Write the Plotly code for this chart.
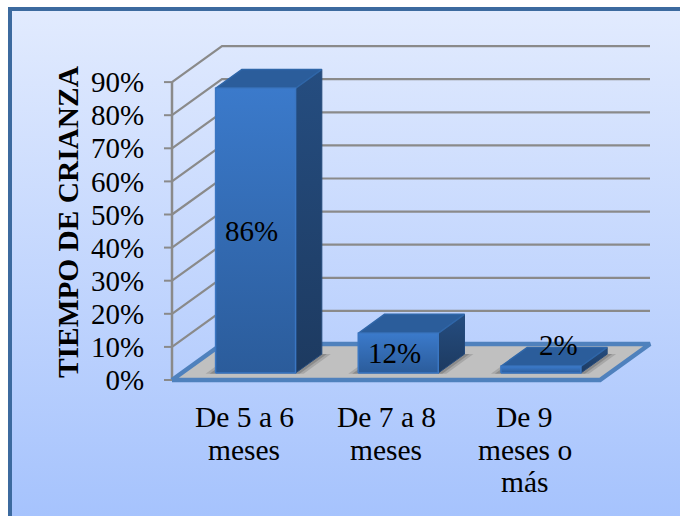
import plotly.graph_objects as go

# ---- data ----
categories = ["De 5 a 6<br>meses", "De 7 a 8<br>meses", "De 9<br>meses o<br>más"]
values = [86, 12, 2]
value_labels = ["86%", "12%", "2%"]
tick_values = [0, 10, 20, 30, 40, 50, 60, 70, 80, 90]
tick_labels = ["0%", "10%", "20%", "30%", "40%", "50%", "60%", "70%", "80%", "90%"]
axis_title = "TIEMPO DE CRIANZA"

# ---- page geometry (pixels) ----
W, H = 680, 516
LAYOUT_H = 522
X0_PX, Y0_PX = 172, 380          # front-left corner of floor
CAT_PX = 428 / 3                 # width of a category slot
PCT_PX = 3.31                    # pixels per percent
BACK_DX, BACK_DY = 50, 36        # oblique depth of the box
PLOT_L, PLOT_R, PLOT_T, PLOT_B = 164, 660, 35, 390
SERIF = "Times New Roman, Liberation Serif, serif"

x_range = [(PLOT_L - X0_PX) / CAT_PX - 0.5, (PLOT_R - X0_PX) / CAT_PX - 0.5]
y_range = [(Y0_PX - PLOT_B) / PCT_PX, (Y0_PX - PLOT_T) / PCT_PX]
X_END = 2.5
DX = BACK_DX / CAT_PX
DY = BACK_DY / PCT_PX

BAR_HALF = 40 / CAT_PX
BAR_SHIFT = 2.5 / CAT_PX
D_FRONT = 0.195
D_BACK = 0.72


def proj(x, v, d):
    return x + d * DX, v + d * DY


def poly(points):
    xs, ys = zip(*[proj(*p) for p in points])
    return list(xs) + [xs[0]], list(ys) + [ys[0]]


GRID = "#8a8a8a"
traces = []

# page background and frame (full-page subplot)
traces.append(go.Scatter(
    x=[8, W, W, 8, 8], y=[7, 7, H, H, 7], mode="lines", fill="toself",
    line=dict(width=0), xaxis="x", yaxis="y", hoverinfo="skip", showlegend=False,
    fillgradient=dict(type="vertical",
                      colorscale=[[0, "#a6c3fd"], [1, "#e2ebfe"]])))
traces.append(go.Scatter(
    x=[10, 10, W + 10], y=[H + 10, 9, 9], mode="lines",
    line=dict(color="#3c6a9f", width=4), xaxis="x", yaxis="y",
    hoverinfo="skip", showlegend=False))


def add(xs, ys, **kw):
    traces.append(go.Scatter(x=xs, y=ys, xaxis="x2", yaxis="y2", showlegend=False,
                             hoverinfo="skip", **kw))


# gridlines: front-left -> back wall -> right end
for t in tick_values[1:]:
    a = proj(-0.5, t, 0)
    b = proj(-0.5, t, 1)
    c = proj(X_END, t, 1)
    add([a[0], b[0], c[0]], [a[1], b[1], c[1]], mode="lines",
        line=dict(color=GRID, width=2.2))

for t in tick_values:
    add([x_range[0], -0.5], [t, t], mode="lines", line=dict(color=GRID, width=2))
add([-0.5, -0.5], [0, tick_values[-1]], mode="lines", line=dict(color=GRID, width=2.5))

# floor
fx, fy = poly([(-0.5, 0, 0), (-0.5, 0, 1), (X_END, 0, 1), (X_END, 0, 0)])
add(fx, fy, mode="lines", fill="toself", fillcolor="#c0c0c0",
    line=dict(color="#4f81bd", width=4.5))

# bars
for i, v in enumerate(values):
    c = i + BAR_SHIFT
    L, R = c - BAR_HALF, c + BAR_HALF
    for grow, alpha in [(9 / CAT_PX, 0.16), (5 / CAT_PX, 0.22)]:
        sx, sy = poly([(L - grow, 0, D_FRONT - 0.02), (R + grow, 0, D_FRONT - 0.02),
                       (R + grow, 0, D_BACK), (L - grow, 0, D_BACK)])
        add(sx, sy, mode="lines", fill="toself", fillcolor=f"rgba(40,40,40,{alpha})",
            line=dict(width=0))
    sx, sy = poly([(R, 0, D_FRONT), (R, 0, D_BACK), (R, v, D_BACK), (R, v, D_FRONT)])
    add(sx, sy, mode="lines", fill="toself", line=dict(color="#24497a", width=1),
        fillgradient=dict(type="vertical", colorscale=[[0, "#1d3a60"], [1, "#254d80"]]))
    sx, sy = poly([(L, v, D_FRONT), (R, v, D_FRONT), (R, v, D_BACK), (L, v, D_BACK)])
    add(sx, sy, mode="lines", fill="toself", fillcolor="#2b5d9b",
        line=dict(color="#2f66a8", width=1.5))
    sx, sy = poly([(L, 0, D_FRONT), (R, 0, D_FRONT), (R, v, D_FRONT), (L, v, D_FRONT)])
    add(sx, sy, mode="lines", fill="toself", line=dict(color="#3a76c2", width=1.5),
        fillgradient=dict(type="vertical", colorscale=[[0, "#2b5c9b"], [1, "#3b7acb"]]))

annotations = []
label_shift = [(-4, 0), (-4, 0), (18, -25)]
for i, (v, txt) in enumerate(zip(values, value_labels)):
    px, py = proj(i + BAR_SHIFT, v / 2, D_FRONT)
    annotations.append(dict(x=px, y=py, xref="x2", yref="y2", text=txt, showarrow=False,
                            xshift=label_shift[i][0], yshift=-label_shift[i][1],
                            font=dict(family=SERIF, size=29, color="black")))

LINE_PX = 32.5
FIRST_LINE_PX = 417
cat_shift = [1, 0, -4]
for i, cat in enumerate(categories):
    for j, line in enumerate(cat.split("<br>")):
        annotations.append(dict(x=i, xref="x2", y=1 - (FIRST_LINE_PX + j * LINE_PX) / H,
                                yref="paper", text=line, showarrow=False, yanchor="middle",
                                xanchor="center", xshift=cat_shift[i],
                                font=dict(family=SERIF, size=29.5, color="black")))

annotations.append(dict(x=68 / W, y=1 - 222 / H, xref="paper", yref="paper",
                        text=f"<b>{axis_title}</b>", xanchor="center", yanchor="middle",
                        showarrow=False, textangle=-90,
                        font=dict(family=SERIF, size=29.4, color="black")))

fig = go.Figure(traces)
fig.update_layout(
    width=W, height=LAYOUT_H, margin=dict(l=0, r=0, t=0, b=0), autosize=False,
    paper_bgcolor="white", plot_bgcolor="rgba(0,0,0,0)", showlegend=False,
    annotations=annotations,
    xaxis=dict(domain=[0, 1], range=[0, W], visible=False, fixedrange=True),
    yaxis=dict(domain=[0, 1], range=[H, 0], visible=False, fixedrange=True),
    xaxis2=dict(domain=[PLOT_L / W, PLOT_R / W], range=x_range, anchor="y2",
                visible=False, fixedrange=True),
    yaxis2=dict(domain=[1 - PLOT_B / H, 1 - PLOT_T / H], range=y_range, anchor="x2",
                tickmode="array", tickvals=tick_values, ticktext=tick_labels,
                ticks="outside", ticklen=13, tickcolor="rgba(0,0,0,0)", showgrid=False,
                zeroline=False, showline=False, fixedrange=True,
                tickfont=dict(family=SERIF, size=29, color="black")),
)
fig.write_html("out.html", config=dict(displayModeBar=False), default_width="680px", default_height="516px",
               post_script="document.body.style.margin='0';document.body.style.overflow='hidden';")
